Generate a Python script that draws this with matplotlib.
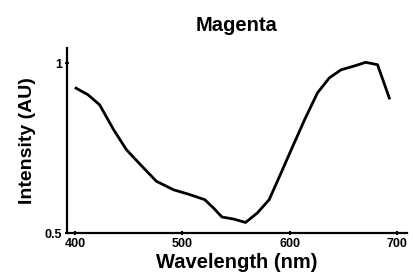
import numpy as np
import matplotlib
matplotlib.use("Agg")
import matplotlib.pyplot as plt

# wavelength (nm) and intensity (AU)
wavelength = [401, 412, 423, 436, 448, 461, 476, 492, 507, 521, 529, 537,
              548, 559, 570, 581, 592, 603, 614, 626, 637, 648, 659, 671,
              682, 693]
intensity = [0.926, 0.907, 0.877, 0.804, 0.745, 0.701, 0.652, 0.627, 0.613,
             0.598, 0.574, 0.547, 0.541, 0.531, 0.559, 0.598, 0.676, 0.755,
             0.833, 0.912, 0.956, 0.980, 0.990, 1.002, 0.995, 0.897]

x_ticks = [400, 500, 600, 700]
y_ticks = [0.5, 1]
y_tick_labels = ["0.5", "1"]

plt.rcParams['font.family'] = ['Liberation Sans', 'DejaVu Sans']
plt.rcParams['font.weight'] = 'bold'

fig = plt.figure(figsize=(4.13, 2.73), dpi=100)
ax = fig.add_axes([0.162, 0.1465, 0.823, 0.6775])

ax.plot(wavelength, intensity, color="black", linewidth=2.0)

ax.set_xlim(392.5, 709.3)
ax.set_ylim(0.5, 1.044)
ax.set_xticks(x_ticks)
ax.set_yticks(y_ticks)
ax.set_yticklabels(y_tick_labels)

for side in ["top", "right"]:
    ax.spines[side].set_visible(False)
for side in ["left", "bottom"]:
    ax.spines[side].set_linewidth(1.6)

ax.tick_params(axis="both", direction="inout", length=3, width=1.5,
               labelsize=9, pad=2)

ax.set_title("Magenta", fontsize=14.5, fontweight="bold", pad=12)
ax.set_xlabel("Wavelength (nm)", fontsize=14.5, fontweight="bold", labelpad=2)
ax.set_ylabel("Intensity (AU)", fontsize=14, fontweight="bold", labelpad=6)

fig.savefig("out.png", dpi=100)
